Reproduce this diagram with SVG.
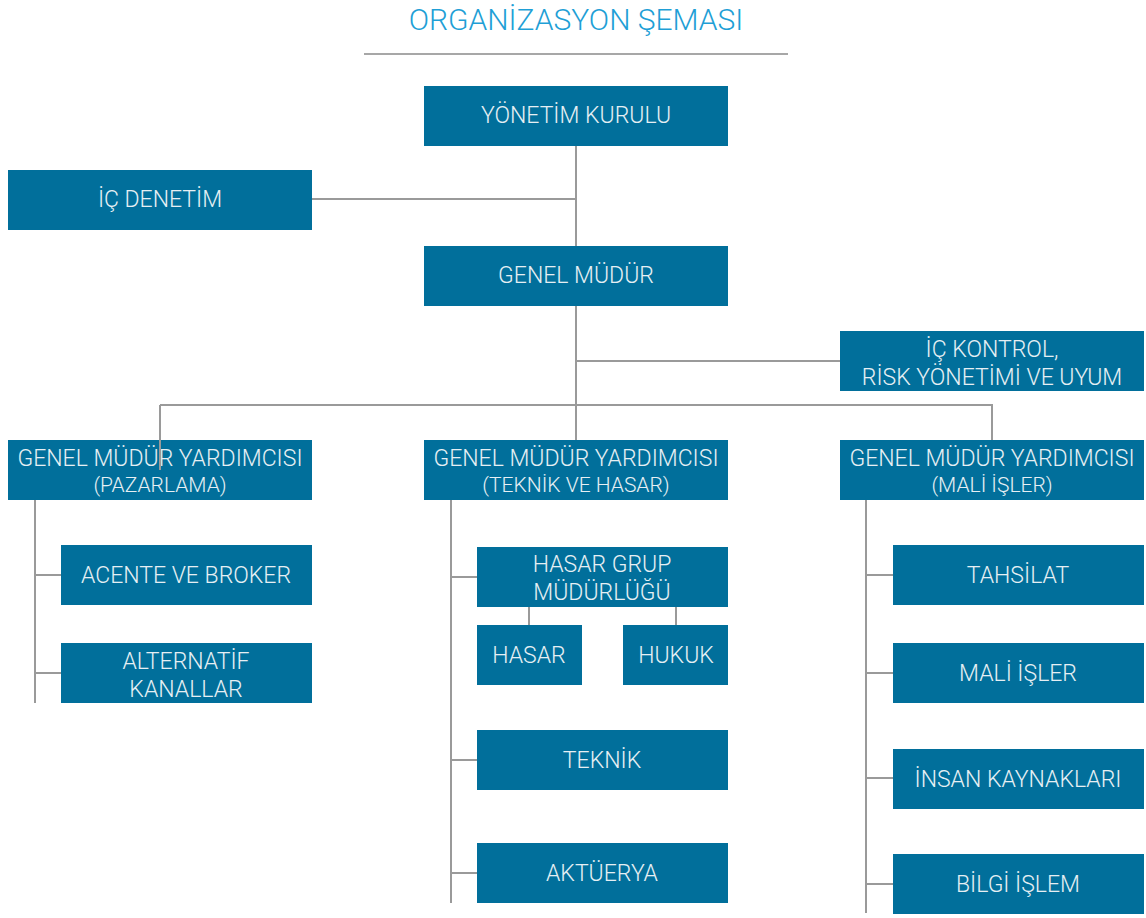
<svg xmlns="http://www.w3.org/2000/svg" width="1146" height="918" viewBox="0 0 1146 918">
<style>
.b{fill:#016f9b}
.t{font-family:Roboto,"DejaVu Sans Condensed",sans-serif;font-size:23px;font-weight:300;fill:#e6eff4;text-anchor:middle}
.s{font-size:21px}
.c{stroke:#9a9a9a;stroke-width:2;fill:none}
.title{font-family:Roboto,sans-serif;font-size:30px;font-weight:300;fill:#1f9fd6;text-anchor:middle}
</style>
<rect width="1146" height="918" fill="#fff"/>
<text class="title" x="576" y="30">ORGANİZASYON ŞEMASI</text>
<line x1="364" y1="54" x2="788" y2="54" stroke="#8a8a8a" stroke-width="1.5"/>
<g id="connectors">
<path class="c" d="M576 146V440M312 199H576M576 361H840M160 405H992V440M35 500V703M35 575H61M35 673H61M451 500V903M451 577H477M451 760H477M451 873H477M529 607V625M676 607V625M866 500V913M866 575H893M866 673H893M866 778H893M866 884H893"/>
</g>
<g id="yonetim"><rect class="b" x="424" y="86" width="304" height="60"/><text class="t" x="576" y="123">YÖNETİM KURULU</text></g>
<g id="ic-denetim"><rect class="b" x="8" y="170" width="304" height="60"/><text class="t" x="160" y="207">İÇ DENETİM</text></g>
<g id="genel-mudur"><rect class="b" x="424" y="246" width="304" height="60"/><text class="t" x="576" y="283">GENEL MÜDÜR</text></g>
<g id="ic-kontrol"><rect class="b" x="840" y="331" width="304" height="60"/><text class="t" x="992" y="357">İÇ KONTROL,</text><text class="t" x="992" y="385">RİSK YÖNETİMİ VE UYUM</text></g>
<g id="gmy-pazarlama"><rect class="b" x="8" y="440" width="304" height="60"/><text class="t" x="160" y="466">GENEL MÜDÜR YARDIMCISI</text><text class="t s" x="160" y="492">(PAZARLAMA)</text></g>
<g id="gmy-teknik"><rect class="b" x="424" y="440" width="304" height="60"/><text class="t" x="576" y="466">GENEL MÜDÜR YARDIMCISI</text><text class="t s" x="576" y="492">(TEKNİK VE HASAR)</text></g>
<g id="gmy-mali"><rect class="b" x="840" y="440" width="304" height="60"/><text class="t" x="992" y="466">GENEL MÜDÜR YARDIMCISI</text><text class="t s" x="992" y="492">(MALİ İŞLER)</text></g>
<path class="c" d="M160 405V470"/>
<g id="acente"><rect class="b" x="61" y="545" width="251" height="60"/><text class="t" x="186" y="583">ACENTE VE BROKER</text></g>
<g id="alternatif"><rect class="b" x="61" y="643" width="251" height="60"/><text class="t" x="186" y="669">ALTERNATİF</text><text class="t" x="186" y="697">KANALLAR</text></g>
<g id="hasar-grup"><rect class="b" x="477" y="547" width="251" height="60"/><text class="t" x="602" y="572">HASAR GRUP</text><text class="t" x="602" y="600">MÜDÜRLÜĞÜ</text></g>
<g id="hasar"><rect class="b" x="477" y="625" width="105" height="60"/><text class="t" x="529" y="663">HASAR</text></g>
<g id="hukuk"><rect class="b" x="623" y="625" width="105" height="60"/><text class="t" x="676" y="663">HUKUK</text></g>
<g id="teknik"><rect class="b" x="477" y="730" width="251" height="60"/><text class="t" x="602" y="768">TEKNİK</text></g>
<g id="akturya"><rect class="b" x="477" y="843" width="251" height="60"/><text class="t" x="602" y="881">AKTÜERYA</text></g>
<g id="tahsilat"><rect class="b" x="893" y="545" width="251" height="60"/><text class="t" x="1018" y="583">TAHSİLAT</text></g>
<g id="mali-isler"><rect class="b" x="893" y="643" width="251" height="60"/><text class="t" x="1018" y="681">MALİ İŞLER</text></g>
<g id="insan"><rect class="b" x="893" y="749" width="251" height="60"/><text class="t" x="1018" y="787">İNSAN KAYNAKLARI</text></g>
<g id="bilgi"><rect class="b" x="893" y="854" width="251" height="60"/><text class="t" x="1018" y="892">BİLGİ İŞLEM</text></g>
</svg>
